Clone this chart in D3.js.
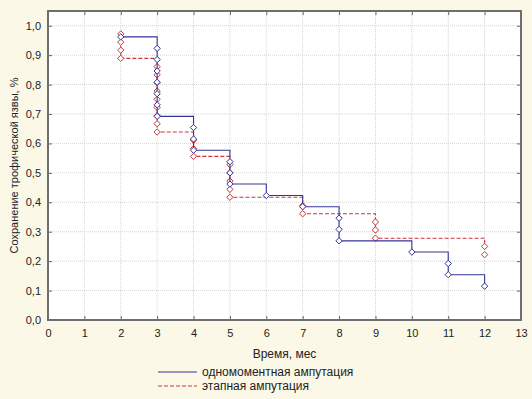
<!DOCTYPE html>
<html>
<head>
<meta charset="utf-8">
<script src="https://cdn.jsdelivr.net/npm/d3@7"></script>
<style>
  body { margin: 0; background: #fcf8e8; }
  svg { display: block; font-family: "Liberation Sans", Arial, sans-serif; }
</style>
</head>
<body>
<svg id="chart" width="532" height="399"></svg>
<script>
const xTicks = [0, 1, 2, 3, 4, 5, 6, 7, 8, 9, 10, 11, 12, 13];
const yTicks = [0, 0.1, 0.2, 0.3, 0.4, 0.5, 0.6, 0.7, 0.8, 0.9, 1.0];

// одномоментная ампутация: time of each drop and the levels reached at it
const singleTimes = [2, 3, 4, 5, 6, 7, 8, 10, 11, 12];
const singleLevels = [
  [0.962],
  [0.923, 0.885, 0.846, 0.808, 0.769, 0.731, 0.692],
  [0.654, 0.615, 0.577],
  [0.538, 0.500, 0.462],
  [0.423],
  [0.385],
  [0.346, 0.308, 0.269],
  [0.231],
  [0.192, 0.154],
  [0.115]
];

// этапная ампутация
const stagedTimes = [2, 3, 4, 5, 7, 9, 12];
const stagedLevels = [
  [0.972, 0.944, 0.917, 0.889],
  [0.861, 0.833, 0.806, 0.778, 0.750, 0.722, 0.694, 0.667, 0.639],
  [0.611, 0.583, 0.556],
  [0.528, 0.500, 0.472, 0.444, 0.417],
  [0.389, 0.361],
  [0.333, 0.306, 0.278],
  [0.250, 0.222]
];

const seriesNames = ["одномоментная ампутация", "этапная ампутация"];

const svg = d3.select("#chart");
const x = d3.scaleLinear().domain([0, 13]).range([48, 521]);
const y = d3.scaleLinear().domain([0, 1.05]).range([320, 11]);

// plot area
svg.append("rect")
  .attr("x", x(0)).attr("y", y(1.05))
  .attr("width", x(13) - x(0)).attr("height", y(0) - y(1.05))
  .attr("fill", "#fff");

// grid
const grid = svg.append("g").attr("stroke", "#d4d4d4").attr("stroke-dasharray", "1,1");
xTicks.slice(1, -1).forEach(t => {
  grid.append("line").attr("x1", x(t)).attr("x2", x(t)).attr("y1", y(0)).attr("y2", y(1.05));
});
yTicks.slice(1).forEach(t => {
  grid.append("line").attr("x1", x(0)).attr("x2", x(13)).attr("y1", y(t)).attr("y2", y(t));
});

// axes
const fmt = d3.format(".1f");
const xAxis = svg.append("g").attr("transform", `translate(0,${y(0)})`)
  .call(d3.axisBottom(x).tickValues(xTicks).tickSize(-4).tickPadding(9).tickFormat(d3.format("d")));
const xTop = svg.append("g").attr("transform", `translate(0,${y(1.05)})`)
  .call(d3.axisTop(x).tickValues(xTicks).tickSize(-4).tickFormat(""));
const yAxis = svg.append("g").attr("transform", `translate(${x(0)},0)`)
  .call(d3.axisLeft(y).tickValues(yTicks).tickSize(-4).tickPadding(7).tickFormat(d => fmt(d).replace(".", ",")));
const yRight = svg.append("g").attr("transform", `translate(${x(13)},0)`)
  .call(d3.axisRight(y).tickValues(yTicks).tickSize(-4).tickFormat(""));

[xAxis, xTop, yAxis, yRight].forEach(a => {
  a.select(".domain").remove();
  a.selectAll(".tick line").attr("stroke", "#666");
  a.selectAll("text").attr("font-size", 11).attr("fill", "#222")
    .attr("font-family", "'Liberation Sans', Arial, sans-serif");
});

// frame
svg.append("rect")
  .attr("x", x(0)).attr("y", y(1.05))
  .attr("width", x(13) - x(0)).attr("height", y(0) - y(1.05))
  .attr("fill", "none").attr("stroke", "#6e6e6e").attr("stroke-width", 2);

// step curves
function stepPoints(times, levels) {
  const pts = [];
  times.forEach((t, i) => {
    if (i > 0) pts.push([t, levels[i - 1][levels[i - 1].length - 1]]);
    if (i === 0) pts.push([t, levels[0][0]]);
    pts.push([t, levels[i][levels[i].length - 1]]);
  });
  return pts;
}
const line = d3.line().x(d => x(d[0])).y(d => y(d[1]));

// small square-ish diamond, about 6px across
const diamond = {
  draw(ctx, size) {
    const r = Math.sqrt(size) / 2;
    ctx.moveTo(0, -r);
    ctx.lineTo(r, 0);
    ctx.lineTo(0, r);
    ctx.lineTo(-r, 0);
    ctx.closePath();
  }
};

function drawSeries(times, levels, color, dash) {
  svg.append("path")
    .attr("d", line(stepPoints(times, levels)))
    .attr("fill", "none").attr("stroke", color).attr("stroke-width", 1.1)
    .attr("stroke-dasharray", dash);
  const pts = [];
  times.forEach((t, i) => levels[i].forEach(v => pts.push([t, v])));
  svg.append("g").selectAll("path").data(pts).join("path")
    .attr("d", d3.symbol(diamond, 40))
    .attr("transform", d => `translate(${x(d[0])},${y(d[1])})`)
    .attr("fill", "#fff").attr("stroke", color).attr("stroke-width", 1);
}

drawSeries(stagedTimes, stagedLevels, "#c83838", "4,2");
drawSeries(singleTimes, singleLevels, "#34349a", null);

// labels
svg.append("text")
  .attr("x", (x(0) + x(13)) / 2).attr("y", 358)
  .attr("text-anchor", "middle").attr("font-size", 12).attr("fill", "#222")
  .text("Время, мес");

svg.append("text")
  .attr("transform", `translate(18,${(y(0) + y(1.05)) / 2}) rotate(-90)`)
  .attr("text-anchor", "middle").attr("font-size", 11).attr("fill", "#222")
  .text("Сохранение трофической язвы, %");

// legend
const legend = svg.append("g");
const legendColors = ["#34349a", "#c83838"];
const legendDash = [null, "4,2"];
seriesNames.forEach((name, i) => {
  const ly = 372 + i * 14;
  legend.append("line")
    .attr("x1", 158).attr("x2", 197).attr("y1", ly).attr("y2", ly)
    .attr("stroke", legendColors[i]).attr("stroke-width", 1.1)
    .attr("stroke-dasharray", legendDash[i]);
  legend.append("text")
    .attr("x", 202).attr("y", ly + 4)
    .attr("font-size", 12).attr("fill", "#222")
    .text(name);
});
</script>
</body>
</html>
